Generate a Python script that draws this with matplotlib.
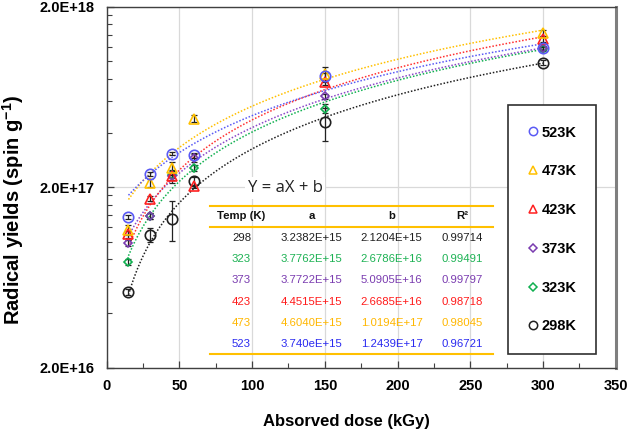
import numpy as np
import matplotlib
matplotlib.use('Agg')
import matplotlib.pyplot as plt
from matplotlib.ticker import FixedLocator, NullFormatter, FuncFormatter
from matplotlib.patches import Rectangle

plt.rcParams['font.family'] = ['Liberation Sans', 'DejaVu Sans']
plt.rcParams['mathtext.fontset'] = 'custom'
plt.rcParams['mathtext.rm'] = 'Liberation Sans'
plt.rcParams['mathtext.bf'] = 'Liberation Sans:bold'

# ---------------- data ----------------
dose = [15, 30, 45, 60, 150, 300]
series_labels = ['523K', '473K', '423K', '373K', '323K', '298K']

y_523 = [1.37e17, 2.37e17, 3.07e17, 3.00e17, 8.3e17, 1.18e18]
y_473 = [1.16e17, 2.11e17, 2.55e17, 4.80e17, 8.5e17, 1.43e18]
y_423 = [1.10e17, 1.73e17, 2.30e17, 2.02e17, 7.7e17, 1.32e18]
y_373 = [9.8e16, 1.39e17, 2.30e17, 2.90e17, 6.4e17, 1.18e18]
y_323 = [7.7e16, 1.39e17, 2.35e17, 2.55e17, 5.45e17, 1.17e18]
y_298 = [5.25e16, 1.09e17, 1.34e17, 2.17e17, 4.57e17, 9.8e17]

e_523 = [3e15, 5e15, 5e15, 1.0e16, 3e16, 3e16]
e_473 = [7.5e15, 1.1e16, 2.1e16, 2.0e16, 8e16, 6e16]
e_423 = [5e15, 5e15, 2.0e16, 5e15, 3e16, 5e16]
e_373 = [4e15, 5e15, 1.0e16, 1.5e16, 2e16, 3e16]
e_323 = [3e15, 5e15, 1.0e16, 1.0e16, 3e16, 3e16]
e_298 = [2e15, 1.0e16, 3.3e16, 1.0e16, 9.5e16, 3e16]

# regression table (Y = aX + b)
tab_temp = ['298', '323', '373', '423', '473', '523']
tab_a = [3.2382e15, 3.7762e15, 3.7722e15, 4.4515e15, 4.6040e15, 3.740e15]
tab_b = [2.1204e15, 2.6786e16, 5.0905e16, 2.6685e16, 1.0194e17, 1.2439e17]
tab_a_txt = ['3.2382E+15', '3.7762E+15', '3.7722E+15', '4.4515E+15', '4.6040E+15', '3.740eE+15']
tab_b_txt = ['2.1204E+15', '2.6786E+16', '5.0905E+16', '2.6685E+16', '1.0194E+17', '1.2439E+17']
tab_r2_txt = ['0.99714', '0.99491', '0.99797', '0.98718', '0.98045', '0.96721']

x_ticks = [0, 50, 100, 150, 200, 250, 300, 350]
y_major = [2e16, 2e17, 2e18]
y_minor = [4e16, 6e16, 8e16, 1e17, 1.2e17, 1.4e17, 1.6e17, 1.8e17,
           4e17, 6e17, 8e17, 1e18, 1.2e18, 1.4e18, 1.6e18, 1.8e18]

# ---------------- style ----------------
mk_col = {'523K': '#5a5af5', '473K': '#ffc000', '423K': '#ff2020',
          '373K': '#7a3cb0', '323K': '#10b050', '298K': '#202020'}
mk_shape = {'523K': 'o', '473K': '^', '423K': '^', '373K': 'D', '323K': 'D', '298K': 'o'}
mk_size = {'523K': 7.5, '473K': 7, '423K': 7, '373K': 4.5, '323K': 4.5, '298K': 7.5}
tab_col = {'298': '#202020', '323': '#1db254', '373': '#7a3cb0',
           '423': '#ff1a1a', '473': '#ffb700', '523': '#2a2af0'}
fit_col = {'298': '#202020', '323': '#10b050', '373': '#8a48c8',
           '423': '#ff3030', '473': '#ffc000', '523': '#5a5af5'}

fig = plt.figure(figsize=(6.29, 4.32), dpi=100)
ax = fig.add_axes([0.1696, 0.1488, 0.8093, 0.8357])

ax.set_yscale('log')
ax.set_xlim(0, 350)
ax.set_ylim(2e16, 2e18)

# fit lines
x_fit = np.linspace(dose[0], dose[-1], 300)
for t, a, b in zip(tab_temp, tab_a, tab_b):
    ax.plot(x_fit, a * x_fit + b, linestyle=(0, (1, 1.2)), color=fit_col[t], lw=1.1, zorder=2)

ys = {'523K': y_523, '473K': y_473, '423K': y_423, '373K': y_373, '323K': y_323, '298K': y_298}
es = {'523K': e_523, '473K': e_473, '423K': e_423, '373K': e_373, '323K': e_323, '298K': e_298}
handles = []
for lab in ['298K', '323K', '373K', '423K', '473K', '523K']:
    ax.errorbar(dose, ys[lab], yerr=es[lab], fmt='none', ecolor='#222222',
                elinewidth=0.9, capsize=2.5, capthick=0.9, zorder=3)
    ax.plot(dose, ys[lab], linestyle='none', marker=mk_shape[lab], ms=mk_size[lab],
            mfc='none', mec=mk_col[lab], mew=1.2, zorder=4)

# legend handles
for lab in series_labels:
    h, = ax.plot([], [], linestyle='none', marker=mk_shape[lab],
                 ms=mk_size[lab] * 0.8, mfc='none', mec=mk_col[lab], mew=1.1, label=lab)
    handles.append(h)

# axes styling
ax.xaxis.set_major_locator(FixedLocator(x_ticks))
ax.xaxis.set_minor_locator(FixedLocator([25, 75, 125, 175, 225, 275, 325]))
ax.yaxis.set_major_locator(FixedLocator(y_major))
ax.yaxis.set_minor_locator(FixedLocator(y_minor))
ax.yaxis.set_minor_formatter(NullFormatter())
ax.yaxis.set_major_formatter(FuncFormatter(lambda v, p: '%.1E' % v))
ax.tick_params(axis='both', which='major', direction='in', length=5, width=0.9,
               color='#404040', labelsize=10.5)
ax.tick_params(axis='both', which='minor', direction='in', length=3.5, width=0.8, color='#404040')
ax.tick_params(axis='x', which='major', pad=8)
ax.tick_params(axis='y', which='major', pad=9)
for lbl in ax.get_xticklabels() + ax.get_yticklabels():
    lbl.set_fontweight('bold')

ax.grid(True, which='major', color='#d9d9d9', lw=0.9, zorder=0)
ax.set_axisbelow(True)
for s in ['left', 'bottom', 'top']:
    ax.spines[s].set_color('#404040')
    ax.spines[s].set_linewidth(1.0)
ax.spines['right'].set_color('#7f7f7f')
ax.spines['right'].set_linewidth(2.2)

fig.text(0.021, 0.514, r'Radical yields (spin g$^{\mathbf{-1}}$)', rotation=90,
         ha='center', va='center', fontsize=14.5, fontweight='bold')
fig.text(0.5512, 0.024, 'Absorved dose (kGy)', ha='center', va='center',
         fontsize=12, fontweight='bold')

# legend box
ax.add_patch(Rectangle((0.7884, 0.038), 0.1729, 0.6897, transform=ax.transAxes,
                       facecolor='white', edgecolor='#303030', lw=1.2, zorder=5))
leg = ax.legend(handles=handles, loc='center', bbox_to_anchor=(0.8748, 0.3828),
                frameon=False, prop={'weight': 'bold', 'size': 10.5},
                labelspacing=1.7, handlelength=0.7, handletextpad=0.25)
leg.set_zorder(6)

# equation and table
ax.text(0.3504, 0.4978, 'Y = aX + b', transform=ax.transAxes, ha='center', va='center',
        fontsize=12, family='Open Sans', color='#222222',
        bbox=dict(facecolor='white', edgecolor='none', pad=2), zorder=6)

gold = '#ffc000'
for yy, lw in [(0.4488, 1.5), (0.3906, 1.5), (0.038, 1.5)]:
    ax.plot([0.203, 0.759], [yy, yy], transform=ax.transAxes, color=gold, lw=lw,
            zorder=6, clip_on=False)

col_x = [0.265, 0.4028, 0.560, 0.6986]
for cx, hd in zip(col_x, ['Temp (K)', 'a', 'b', 'R²']):
    ax.text(cx, 0.4202, hd, transform=ax.transAxes, ha='center', va='center',
            fontsize=8.2, fontweight='bold', color='#111111', zorder=6)
row_y = [0.360, 0.301, 0.243, 0.183, 0.1247, 0.0657]
for i, t in enumerate(tab_temp):
    for cx, txt in zip(col_x, [t, tab_a_txt[i], tab_b_txt[i], tab_r2_txt[i]]):
        ax.text(cx, row_y[i], txt, transform=ax.transAxes, ha='center', va='center',
                fontsize=8.2, color=tab_col[t], zorder=6)

fig.savefig('out.png', dpi=100)
